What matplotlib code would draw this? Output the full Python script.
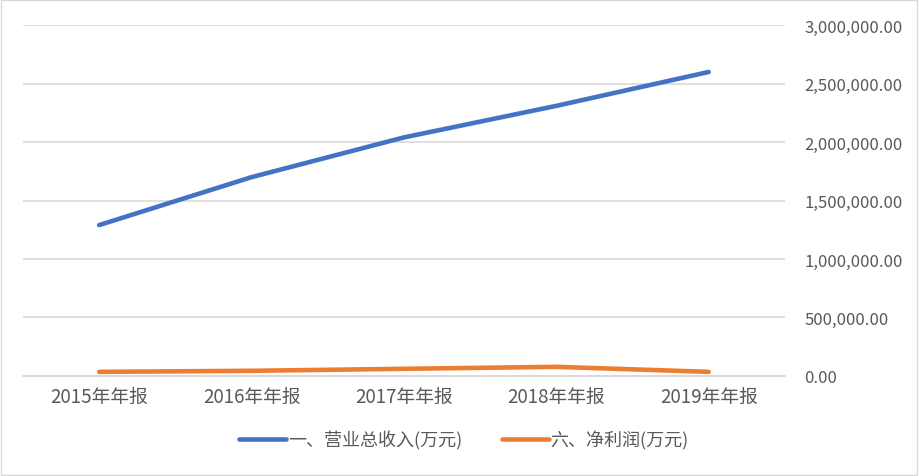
import matplotlib
matplotlib.use("Agg")
import matplotlib.pyplot as plt
from matplotlib.ticker import FuncFormatter

plt.rcParams['font.family'] = ['Noto Sans CJK SC', 'DejaVu Sans']

years = ["2015年年报", "2016年年报", "2017年年报", "2018年年报", "2019年年报"]
revenue = [1290000, 1700000, 2040000, 2310000, 2600000]
profit = [34000, 43000, 60000, 77000, 34000]
yticks = [0, 500000, 1000000, 1500000, 2000000, 2500000, 3000000]

fig = plt.figure(figsize=(9.19, 4.77), dpi=100)
ax = fig.add_axes([0.025, 0.21, 0.829, 0.735])

x = range(len(years))
ax.plot(x, revenue, color="#4472C4", lw=3.3, solid_capstyle="round", label="一、营业总收入(万元)")
ax.plot(x, profit, color="#ED7D31", lw=3.3, solid_capstyle="round", label="六、净利润(万元)")

ax.set_xlim(-0.5, len(years) - 0.5)
ax.set_ylim(0, 3000000)
ax.set_xticks(list(x))
ax.set_xticklabels(years)
ax.set_yticks(yticks)
ax.yaxis.set_major_formatter(FuncFormatter(lambda v, p: f"{v:,.2f}"))
ax.yaxis.tick_right()
ax.grid(axis="y", color="#D9D9D9", lw=1.2)
ax.set_axisbelow(True)
for s in ["top", "left", "right"]:
    ax.spines[s].set_visible(False)
ax.spines["bottom"].set_color("#D9D9D9")
ax.spines["bottom"].set_linewidth(1.5)
ax.tick_params(length=0, colors="#595959")
ax.tick_params(axis="y", pad=14, labelsize=12)
ax.tick_params(axis="x", pad=7, labelsize=13.5)

leg = fig.legend(loc="center", bbox_to_anchor=(0.505, 0.075), ncol=2, frameon=False,
                 fontsize=13, handlelength=2.6, columnspacing=2.2, handletextpad=0.1)
for t in leg.get_texts():
    t.set_color("#595959")

fig.patches.append(plt.Rectangle((0.001, 0.002), 0.997, 0.995, transform=fig.transFigure,
                                 fill=False, edgecolor="#D9D9D9", lw=1))

fig.savefig("out.png", dpi=100)
